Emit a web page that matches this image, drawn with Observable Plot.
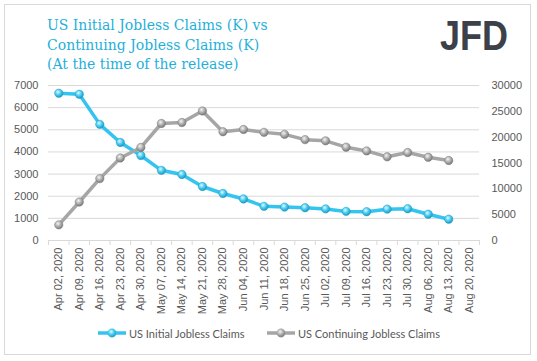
<!DOCTYPE html>
<html>
<head>
<meta charset="utf-8">
<script src="https://cdn.jsdelivr.net/npm/d3@7"></script>
<script src="https://cdn.jsdelivr.net/npm/@observablehq/plot@0.6"></script>
<style>
  html, body { margin: 0; padding: 0; background: #ffffff; }
  #wrap { position: relative; width: 537px; height: 361px; overflow: hidden; background: #fff; }
  #border { position: absolute; left: 4px; top: 4px; width: 525px; height: 349px; border: 1px solid #d9d9d9; box-sizing: content-box; }
  #title { position: absolute; left: 47px; top: 16px; font-family: "DejaVu Serif", "Liberation Serif", serif; font-size: 14px; line-height: 19.5px; color: #1fb0da; white-space: nowrap; }
  #logo { position: absolute; left: 432px; top: 10px; }
  #chart { position: absolute; left: 0; top: 0; }
  #legend { position: absolute; top: 326px; left: 0; width: 537px; height: 16px; font-family: Lato, "Liberation Sans", sans-serif; font-size: 11px; color: #595959; }
  .item { position: absolute; top: 0; display: flex; align-items: center; white-space: nowrap; }
  .item svg { display: block; margin-right: 2px; }
</style>
</head>
<body>
<div id="wrap">
  <div id="border"></div>
  <div id="chart"></div>
  <div id="title">US Initial Jobless Claims (K) vs<br>Continuing Jobless Claims (K)<br>(At the time of the release)</div>
  <div id="logo">
    <svg width="92" height="50">
      <text x="8" y="40" font-family="Liberation Sans, Arial, sans-serif" font-weight="bold" font-size="43" fill="#3b4049" textLength="68" lengthAdjust="spacingAndGlyphs">JFD</text>
    </svg>
  </div>
  <div id="legend"></div>
</div>
<script>
const dates = ["Apr 02, 2020","Apr 09, 2020","Apr 16, 2020","Apr 23, 2020","Apr 30, 2020","May 07, 2020","May 14, 2020","May 21, 2020","May 28, 2020","Jun 04, 2020","Jun 11, 2020","Jun 18, 2020","Jun 25, 2020","Jul 02, 2020","Jul 09, 2020","Jul 16, 2020","Jul 23, 2020","Jul 30, 2020","Aug 06, 2020","Aug 13, 2020","Aug 20, 2020"];
const initialClaims = [6648, 6606, 5245, 4427, 3839, 3169, 2981, 2438, 2123, 1877, 1542, 1508, 1480, 1427, 1314, 1300, 1416, 1434, 1186, 963];
const continuingClaims = [3029, 7455, 11976, 15976, 18011, 22647, 22833, 25073, 21052, 21487, 20929, 20544, 19522, 19290, 18062, 17338, 16197, 17018, 16107, 15486];
const leftTicks = [0, 1000, 2000, 3000, 4000, 5000, 6000, 7000];
const rightTicks = [0, 5000, 10000, 15000, 20000, 25000, 30000];
const seriesNames = ["US Initial Jobless Claims", "US Continuing Jobless Claims"];

const leftMax = 7000, rightMax = 30000;
const k = leftMax / rightMax;
const initData = initialClaims.map((v, i) => ({i, v}));
const contData = continuingClaims.map((v, i) => ({i, v: v * k}));
const idx = d3.range(dates.length);
const bounds = d3.range(dates.length + 1).map(i => i - 0.5);

const blue = "#33c4ef", gray = "#a6a6a6";

const chart = Plot.plot({
  width: 537,
  height: 361,
  marginLeft: 48,
  marginRight: 58,
  marginTop: 85,
  marginBottom: 121,
  style: {fontFamily: "'Liberation Sans', Arial, sans-serif", fontSize: "11px", color: "#595959", background: "transparent", overflow: "visible"},
  x: {type: "linear", domain: [-0.5, dates.length - 0.5]},
  y: {domain: [0, leftMax]},
  marks: [
    Plot.ruleY(leftTicks, {stroke: "#d9d9d9", strokeWidth: 1}),
    Plot.axisY({ticks: leftTicks, tickSize: 0, tickPadding: 10, label: null, tickFormat: d => String(d)}),
    Plot.axisY({anchor: "right", ticks: rightTicks.map(t => t * k), tickSize: 0, tickPadding: 12, label: null, tickFormat: d => String(Math.round(d / k))}),
    Plot.axisX({ticks: idx, tickSize: 0, tickPadding: 7, tickRotate: -90, label: null, tickFormat: i => dates[i]}),
    Plot.axisX({ticks: bounds, tickSize: 5, label: null, tickFormat: () => "", stroke: "#d9d9d9"}),
    Plot.line(initData, {x: "i", y: "v", stroke: blue, strokeWidth: 3.5, strokeLinejoin: "round"}),
    Plot.dot(initData, {x: "i", y: "v", r: 4.2, fill: "url(#gBlue)", stroke: "#1e9cc6", strokeWidth: 0.5}),
    Plot.line(contData, {x: "i", y: "v", stroke: gray, strokeWidth: 3.5, strokeLinejoin: "round"}),
    Plot.dot(contData, {x: "i", y: "v", r: 4.2, fill: "url(#gGray)", stroke: "#7f7f7f", strokeWidth: 0.5})
  ]
});

const defs = `
<defs>
  <radialGradient id="gBlue" cx="40%" cy="35%" r="70%">
    <stop offset="0" stop-color="#e4f9ff"/>
    <stop offset="0.45" stop-color="#4fd0f4"/>
    <stop offset="1" stop-color="#1490bd"/>
  </radialGradient>
  <radialGradient id="gGray" cx="40%" cy="35%" r="70%">
    <stop offset="0" stop-color="#f4f4f4"/>
    <stop offset="0.45" stop-color="#b4b4b4"/>
    <stop offset="1" stop-color="#6e6e6e"/>
  </radialGradient>
</defs>`;
chart.insertAdjacentHTML("afterbegin", defs);
document.getElementById("chart").appendChild(chart);

// legend
const legend = document.getElementById("legend");
const items = [
  {name: seriesNames[0], color: blue, grad: "gBlue", x: 97},
  {name: seriesNames[1], color: gray, grad: "gGray", x: 266}
];
for (const it of items) {
  const d = document.createElement("div");
  d.className = "item";
  d.style.left = it.x + "px";
  d.innerHTML = `<svg width="30" height="14"><line x1="1" y1="7" x2="29" y2="7" stroke="${it.color}" stroke-width="3.5"/><circle cx="15" cy="7" r="4.2" fill="url(#${it.grad})" stroke="${it.color}" stroke-width="0.5"/></svg><span>${it.name}</span>`;
  legend.appendChild(d);
}
</script>
</body>
</html>
